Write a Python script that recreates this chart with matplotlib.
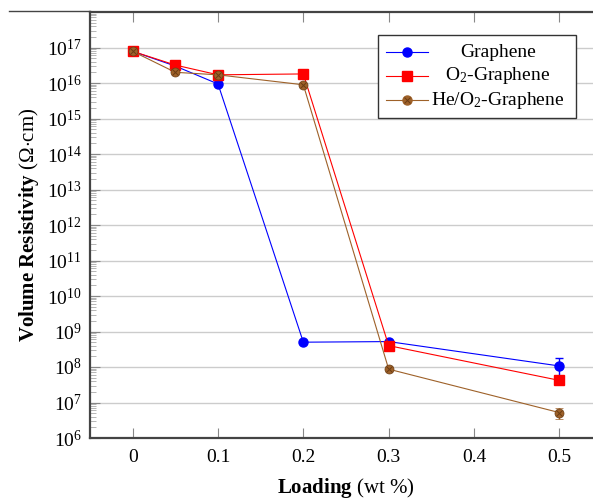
import numpy as np
import matplotlib
matplotlib.use("Agg")
import matplotlib.pyplot as plt
from matplotlib.lines import Line2D
from matplotlib.patches import Rectangle

plt.rcParams['font.family'] = ['Liberation Serif', 'DejaVu Serif']
plt.rcParams['mathtext.fontset'] = 'custom'
plt.rcParams['mathtext.rm'] = 'Liberation Serif'
plt.rcParams['mathtext.it'] = 'Liberation Serif:italic'
plt.rcParams['mathtext.bf'] = 'Liberation Serif:bold'

# loading (wt %) and volume resistivity (Ohm.cm)
loading = [0, 0.05, 0.1, 0.2, 0.3, 0.5]
graphene = [7.8e16, 3.0e16, 9.4e15, 5.0e8, 5.2e8, 1.07e8]
o2_graphene = [7.8e16, 3.2e16, 1.7e16, 1.8e16, 4.0e8, 4.2e7]
he_o2_graphene = [7.8e16, 2.0e16, 1.7e16, 8.9e15, 8.7e7, 5.2e6]

# error bars only reported at 0.5 wt %
graphene_err = [0, 0, 0, 0, 0, 7.0e7]
he_o2_err = [0, 0, 0, 0, 0, 1.7e6]

labels = ['Graphene', r'O$_2$-Graphene', r'He/O$_2$-Graphene']
xticks = [0, 0.1, 0.2, 0.3, 0.4, 0.5]

blue = (0, 0, 1)
red = (1, 0, 0)
brown = (0.62, 0.38, 0.16)
brown_dark = (0.42, 0.24, 0.08)

W, H = 593, 501
fig = plt.figure(figsize=(W / 100, H / 100), dpi=100)
# axes box runs past the right border of the figure
x0, x1, ytop, ybot = 90, 602, 12, 438
ax = fig.add_axes([x0 / W, 1 - ybot / H, (x1 - x0) / W, (ybot - ytop) / H])

ax.set_yscale('log')
ax.set_xlim(-0.05, 0.55)
ax.set_ylim(1e6, 1e18)

ax.errorbar(loading, graphene, yerr=graphene_err, color=blue, lw=0.8,
            marker='o', ms=6.5, capsize=3, elinewidth=1, zorder=3,
            label=labels[0])
ax.plot(loading, o2_graphene, color=red, lw=0.8, marker='s', ms=7,
        zorder=4, label=labels[1])
ax.errorbar(loading, he_o2_graphene, yerr=he_o2_err, color=brown, lw=0.8,
            marker='o', ms=6.5, capsize=3, elinewidth=1, zorder=5,
            mec=brown_dark, mew=0.5, label=labels[2])
# otimes-style cross drawn over the brown circles
ax.plot(loading, he_o2_graphene, ls='none', marker='x', ms=4.5,
        mec=brown_dark, mew=0.7, zorder=6)

ax.set_xticks(xticks)
ax.set_xticklabels(['0', '0.1', '0.2', '0.3', '0.4', '0.5'])
ax.set_yticks([10.0 ** k for k in range(6, 18)])
ax.set_yticklabels([r'$10^{%d}$' % k for k in range(6, 18)])
ax.yaxis.set_minor_locator(matplotlib.ticker.LogLocator(base=10, subs=np.arange(2, 10), numticks=30))
ax.yaxis.set_minor_formatter(matplotlib.ticker.NullFormatter())

ax.tick_params(axis='both', labelsize=14, colors='#888888', labelcolor='black')
ax.tick_params(axis='x', which='major', direction='in', length=7, width=0.8,
               top=True, pad=8)
ax.tick_params(axis='y', which='major', direction='in', length=7, width=0.8, pad=6)
ax.tick_params(axis='y', which='minor', direction='in', length=4, width=0.6,
               colors='#aaaaaa')
ax.grid(True, axis='y', which='major', color='#cccccc', lw=1.0)
ax.set_axisbelow(True)

for side in ['left', 'bottom', 'top', 'right']:
    ax.spines[side].set_color('#444444')
    ax.spines[side].set_linewidth(1.6)

ax.set_xlabel(r'$\mathbf{Loading}$ (wt %)', fontsize=15, labelpad=7)
ax.set_ylabel(r'$\mathbf{Volume\ Resistivity}$ ($\Omega{\cdot}$cm)', fontsize=15,
              labelpad=4)

# frame line running out to the left edge along the top
fig.add_artist(Line2D([9 / W, x0 / W], [1 - 11 / H, 1 - 11 / H],
                      color='#444444', lw=1.0))

# legend with centred entry labels
lx0, lx1, ly0, ly1 = 0.5625, 0.949, 0.751, 0.946
ax.add_patch(Rectangle((lx0, ly0), lx1 - lx0, ly1 - ly0, transform=ax.transAxes,
                       facecolor='white', edgecolor='#333333', lw=1.0, zorder=10))
rows = [0.906, 0.850, 0.793]
styles = [dict(color=blue, marker='o', ms=6.5),
          dict(color=red, marker='s', ms=7),
          dict(color=brown, marker='o', ms=6.5)]
for yy, lab, st in zip(rows, labels, styles):
    ax.plot([0.578, 0.660], [yy, yy], transform=ax.transAxes, lw=0.8,
            color=st['color'], zorder=11)
    ax.plot([0.619], [yy], transform=ax.transAxes, ls='none', marker=st['marker'],
            ms=st['ms'], color=st['color'], zorder=12)
    ax.text(0.797, yy, lab, transform=ax.transAxes, ha='center', va='center',
            fontsize=14, zorder=12)
ax.plot([0.619], [rows[2]], transform=ax.transAxes, ls='none', marker='x',
        ms=4.5, mec=brown_dark, mew=0.7, zorder=13)

fig.savefig('out.png', dpi=100)
